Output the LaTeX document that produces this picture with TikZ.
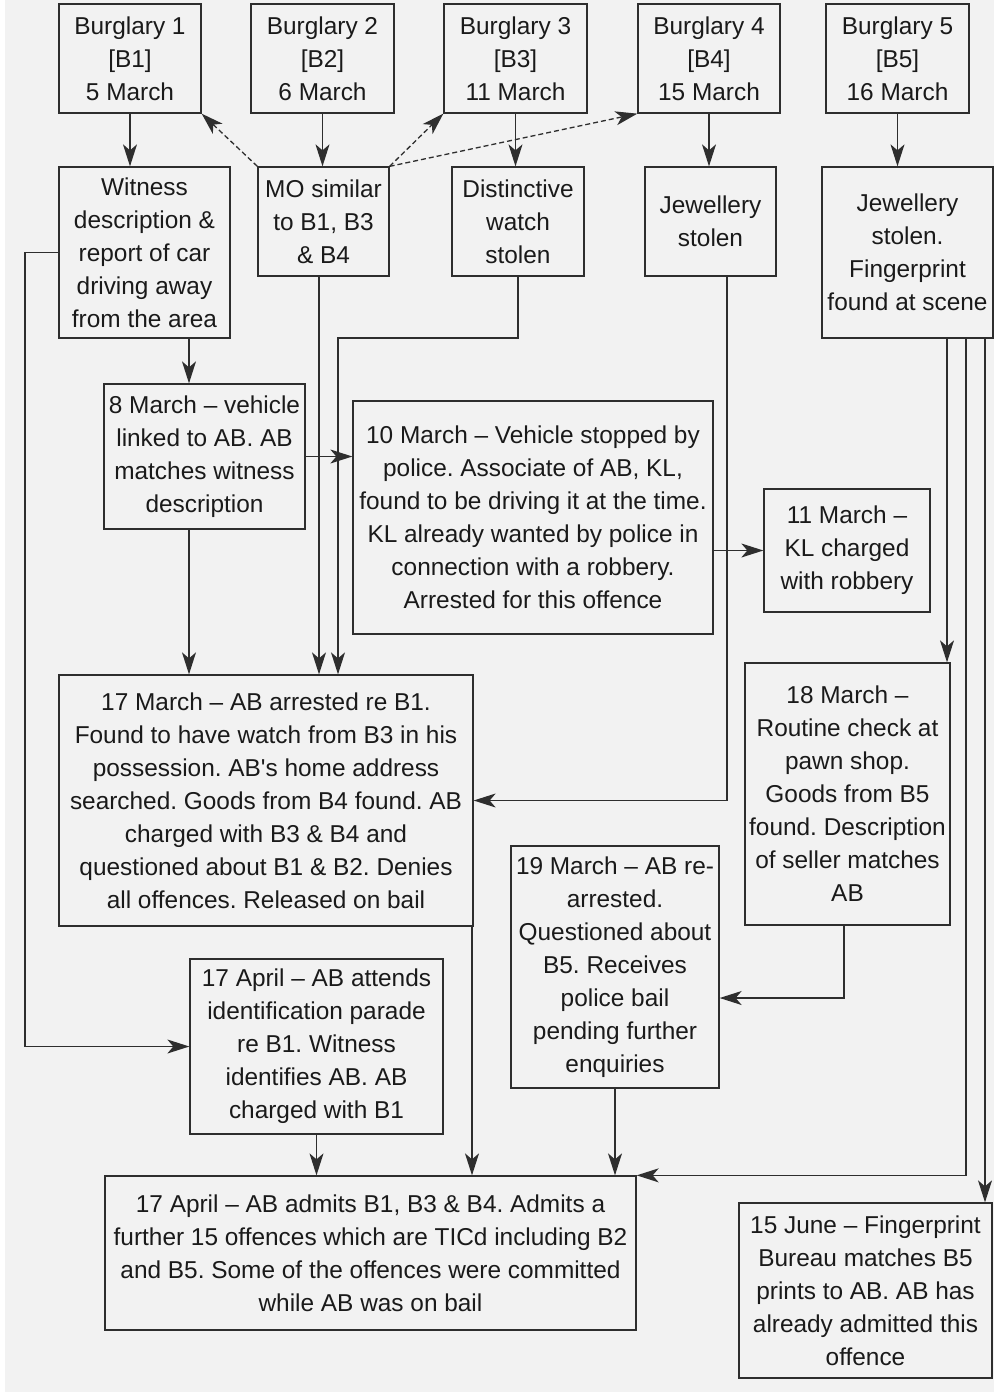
\documentclass[tikz,border=0pt]{standalone}
\usepackage{fontspec}
\setmainfont{Liberation Sans}[Ligatures=TeXOff]
\usetikzlibrary{arrows.meta}
\definecolor{bg}{HTML}{F2F2F2}
\definecolor{ln}{HTML}{2E2E2E}
\definecolor{tx}{HTML}{1A1A1A}
\tikzset{
  bx/.style={draw=ln, line width=1.3pt, text=tx, align=center, inner sep=0pt,
    font=\fontsize{24.4}{33}\selectfont\frenchspacing},
  tip/.tip={Stealth[length=22pt,width=14pt,inset=6pt]},
  arr/.style={draw=ln, line width=1.3pt, -tip},
  darr/.style={arr, dash pattern=on 5pt off 3pt},
}
\newcommand\mybox[6]{\node[bx,minimum width={#4-#2},minimum height={#5-#3}] (#1) at ({(#2+#4)/2},{(#3+#5)/2}) {#6};}
\begin{document}
\begin{tikzpicture}[x=1pt,y=-1pt]
\useasboundingbox (0,0) rectangle (994,1392);
\fill[white] (0,0) rectangle (994,1392);
\fill[bg] (5,0) rectangle (994,1392);

% top row
\mybox{b1}{59}{4}{201}{113}{Burglary 1\\{}[B1]\\5 March}
\mybox{b2}{251}{4}{394}{113}{Burglary 2\\{}[B2]\\6 March}
\mybox{b3}{444}{4}{587}{113}{Burglary 3\\{}[B3]\\11 March}
\mybox{b4}{638}{4}{780}{113}{Burglary 4\\{}[B4]\\15 March}
\mybox{b5}{826}{4}{969}{113}{Burglary 5\\{}[B5]\\16 March}

% second row
\mybox{wit}{59}{167}{230}{338}{Witness\\description \&\\report of car\\driving away\\from the area}
\mybox{mo}{258}{167}{389}{276}{MO similar\\to B1, B3\\\& B4}
\mybox{dist}{452}{167}{584}{276}{Distinctive\\watch\\stolen}
\mybox{jw4}{645}{167}{776}{276}{Jewellery\\stolen}
\mybox{jw5}{822}{167}{993}{338}{Jewellery\\stolen.\\Fingerprint\\found at scene}

% middle
\mybox{m8}{104}{384}{305}{529}{8 March – vehicle\\linked to AB. AB\\matches witness\\description}
\mybox{m10}{353}{401}{713}{634}{10 March – Vehicle stopped by\\police. Associate of AB, KL,\\found to be driving it at the time.\\KL already wanted by police in\\connection with a robbery.\\Arrested for this offence}
\mybox{m11}{764}{489}{930}{612}{11 March –\\KL charged\\with robbery}
\mybox{m17}{59}{675}{473}{926}{17 March – AB arrested re B1.\\Found to have watch from B3 in his\\possession. AB's home address\\searched. Goods from B4 found. AB\\charged with B3 \& B4 and\\questioned about B1 \& B2. Denies\\all offences. Released on bail}
\mybox{m18}{745}{663}{950}{925}{18 March –\\Routine check at\\pawn shop.\\Goods from B5\\found. Description\\of seller matches\\AB}
\mybox{m19}{511}{846}{719}{1088}{19 March – AB re-\\arrested.\\Questioned about\\B5. Receives\\police bail\\pending further\\enquiries}
\mybox{id}{190}{959}{443}{1134}{17 April – AB attends\\identification parade\\re B1. Witness\\identifies AB. AB\\charged with B1}
\mybox{fin}{105}{1176}{636}{1330}{17 April – AB admits B1, B3 \& B4. Admits a\\further 15 offences which are TICd including B2\\and B5. Some of the offences were committed\\while AB was on bail}
\mybox{m15}{739}{1203}{992}{1378}{15 June – Fingerprint\\Bureau matches B5\\prints to AB. AB has\\already admitted this\\offence}

% helper coordinates
\coordinate (lft) at (25,0);
\coordinate (c1) at (189,0);
\coordinate (c2) at (319,0);
\coordinate (k3) at (338,338);
\coordinate (c4) at (727,0);
\coordinate (c5) at (472,0);
\coordinate (c6) at (947,0);
\coordinate (c7) at (966,0);
\coordinate (c8) at (985,0);
\coordinate (c9) at (844,998);

% top arrows
\draw[arr] (b1.south) -- (b1.south |- wit.north);
\draw[arr] (b2.south) -- (b2.south |- mo.north);
\draw[arr] (b3.south) -- (b3.south |- dist.north);
\draw[arr] (b4.south) -- (b4.south |- jw4.north);
\draw[arr] (b5.south) -- (b5.south |- jw5.north);

% dashed
\draw[darr] (mo.north west) -- (b1.south east);
\draw[darr] (mo.north east) -- (b3.south west);
\draw[darr] (mo.north east) -- (b4.south west);

% witness
\draw[arr] (wit.west) -- (wit.west -| lft) |- (id.west);
\draw[arr] (c1 |- wit.south) -- (c1 |- m8.north);
\draw[arr] (m8.east) -- (m8.east -| m10.west);
\draw[arr] (m11.west -| m10.east) -- (m11.west);
\draw[arr] (c1 |- m8.south) -- (c1 |- m17.north);
\draw[arr] (c2 |- mo.south) -- (c2 |- m17.north);
\draw[arr] (dist.south) |- (k3) -- (k3 |- m17.north);
\draw[arr] (c4 |- jw4.south) |- (m17.east);
\draw[arr] (c5 |- m17.south) -- (c5 |- fin.north);
\draw[arr] (id.south) -- (id.south |- fin.north);

% B5 chain
\draw[arr] (c6 |- jw5.south) -- (c6 |- m18.north);
\draw[arr] (c7 |- jw5.south) |- (fin.north east);
\draw[arr] (c8 |- jw5.south) -- (c8 |- m15.north);
\draw[arr] (c9 |- m18.south) -- (c9) -- (c9 -| m19.east);
\draw[arr] (m19.south) -- (m19.south |- fin.north);
\end{tikzpicture}
\end{document}
